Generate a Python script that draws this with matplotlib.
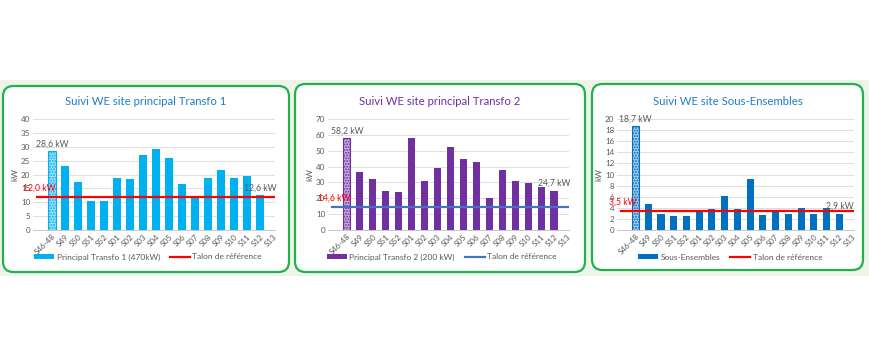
import numpy as np
import matplotlib
matplotlib.use('Agg')
import matplotlib.pyplot as plt
from matplotlib.patches import FancyBboxPatch, Rectangle, Patch
from matplotlib.lines import Line2D

plt.rcParams['font.family'] = ['Lato', 'DejaVu Sans']

# Semaines
weeks = ['S46-48', 'S49', 'S50', 'S51', 'S52', 'S01', 'S02', 'S03', 'S04', 'S05',
         'S06', 'S07', 'S08', 'S09', 'S10', 'S11', 'S12', 'S13']

# Valeurs (kW), S13 sans donnee
transfo1 = [28.6, 23.2, 17.4, 10.4, 10.6, 18.9, 18.3, 26.9, 29.2, 25.8,
            16.4, 12.1, 18.9, 21.5, 18.9, 19.5, 12.6, np.nan]
transfo2 = [58.2, 36.8, 32.3, 24.3, 23.7, 58.3, 30.7, 39.4, 52.2, 44.8,
            42.7, 20.4, 38.1, 30.9, 29.9, 27.4, 24.7, np.nan]
sous_ens = [18.7, 4.7, 2.8, 2.5, 2.6, 3.2, 3.7, 6.1, 3.8, 9.2,
            2.7, 3.5, 2.9, 3.9, 2.9, 3.9, 2.9, np.nan]

talon1 = 12.0
talon2 = 14.6
talon3 = 3.5

W, H = 870, 350
fig = plt.figure(figsize=(W / 100, H / 100), dpi=100)
fig.patch.set_facecolor('white')

def px(x0, y0, x1, y1):
    # pixel box (top-left origin) -> figure fraction [l, b, w, h]
    return [x0 / W, 1 - y1 / H, (x1 - x0) / W, (y1 - y0) / H]

# fond vert clair derriere les cadres
fig.patches.append(Rectangle((0, 1 - 276 / H), 1, 196 / H, transform=fig.transFigure,
                             facecolor='#eef4ea', edgecolor='none', zorder=0))

panels = [
    dict(box=(3, 86, 289, 272), ax=(33, 119, 275, 230), data=transfo1, talon=talon1,
         color='#00b0f0', light='#a6e1f7', line='#ff0000', ymax=40, ystep=5,
         title='Suivi WE site principal Transfo 1', tcolor='#1f7fc8',
         label='Principal Transfo 1 (470kW)', first='28,6 kW', last='12,6 kW',
         tlabel='12,0 kW', leg_c=148),
    dict(box=(295, 84, 585, 272), ax=(328, 119, 569, 230), data=transfo2, talon=talon2,
         color='#7030a0', light='#c9b0dc', line='#4472c4', ymax=70, ystep=10,
         title='Suivi WE site principal Transfo 2', tcolor='#7030a0',
         label='Principal Transfo 2 (200 kW)', first='58,2 kW', last='24,7 kW',
         tlabel='14,6 kW', leg_c=442),
    dict(box=(592, 84, 863, 270), ax=(617, 119, 854, 230), data=sous_ens, talon=talon3,
         color='#0070c0', light='#a9cbe8', line='#ff0000', ymax=20, ystep=2,
         title='Suivi WE site Sous-Ensembles', tcolor='#1f7fc8',
         label='Sous-Ensembles', first='18,7 kW', last='2,9 kW',
         tlabel='3,5 kW', leg_c=730),
]

for p in panels:
    x0, y0, x1, y1 = p['box']
    fig.patches.append(FancyBboxPatch((x0 / W, 1 - y1 / H), (x1 - x0) / W, (y1 - y0) / H,
                                      boxstyle='round,pad=0,rounding_size=0.012',
                                      transform=fig.transFigure, facecolor='white',
                                      edgecolor='#22b14c', linewidth=1.6, zorder=1,
                                      mutation_aspect=W / H))

    ax = fig.add_axes(px(*p['ax']))
    ax.set_zorder(3)
    ax.set_facecolor('none')
    xs = np.arange(len(weeks))
    vals = np.array(p['data'])
    ax.bar(xs[1:], vals[1:], width=0.56, color=p['color'], zorder=3)
    ax.bar(xs[:1], vals[:1], width=0.56, facecolor=p['light'], edgecolor=p['color'],
           hatch='......', linewidth=0.8, zorder=3)
    ax.axhline(p['talon'], xmin=0.015, xmax=1, color=p['line'], linewidth=1.6, zorder=4)

    ax.set_xlim(-1.45, 17.15)
    ax.set_ylim(0, p['ymax'])
    ax.set_yticks(np.arange(0, p['ymax'] + 0.1, p['ystep']))
    ax.yaxis.grid(True, color='#d9d9d9', linewidth=0.6, zorder=0)
    ax.set_axisbelow(True)
    for s in ['top', 'right', 'left']:
        ax.spines[s].set_visible(False)
    ax.spines['bottom'].set_color('#bfbfbf')
    ax.spines['bottom'].set_linewidth(0.6)
    ax.tick_params(axis='both', length=0, labelsize=5.8, colors='#595959', pad=2)
    ax.set_xticks(xs)
    ax.set_xticklabels(weeks, rotation=45, ha='right', rotation_mode='anchor')
    ax.set_ylabel('kW', fontsize=6, color='#595959', labelpad=2)

    # etiquettes de valeurs
    ax.text(0, vals[0] + p['ymax'] * 0.02, p['first'], ha='center', va='bottom',
            fontsize=6.2, color='#595959', zorder=5)
    ax.text(16, vals[16] + p['ymax'] * 0.025, p['last'], ha='center', va='bottom',
            fontsize=6.2, color='#595959', zorder=5)
    ax.text(-1.0, p['talon'] + p['ymax'] * 0.035, p['tlabel'], ha='center', va='bottom',
            fontsize=6.2, color='#ff0000', zorder=5)

    # titre
    fig.text(((x0 + x1) / 2) / W, 1 - 102 / H, p['title'], ha='center', va='center',
             fontsize=8.2, color=p['tcolor'], zorder=4)

    # legende
    handles = [Patch(facecolor=p['color'], edgecolor='none', label=p['label']),
               Line2D([], [], color=p['line'], linewidth=1.6, label='Talon de référence')]
    leg = fig.legend(handles=handles, loc='center',
                     bbox_to_anchor=(p['leg_c'] / W, 1 - 257 / H), ncol=2, frameon=False,
                     fontsize=6, handlelength=2.4, handleheight=0.6, handletextpad=0.3,
                     columnspacing=1.2, labelcolor='#595959')
    leg.set_zorder(5)

fig.savefig('out.png', dpi=100, facecolor='white')
